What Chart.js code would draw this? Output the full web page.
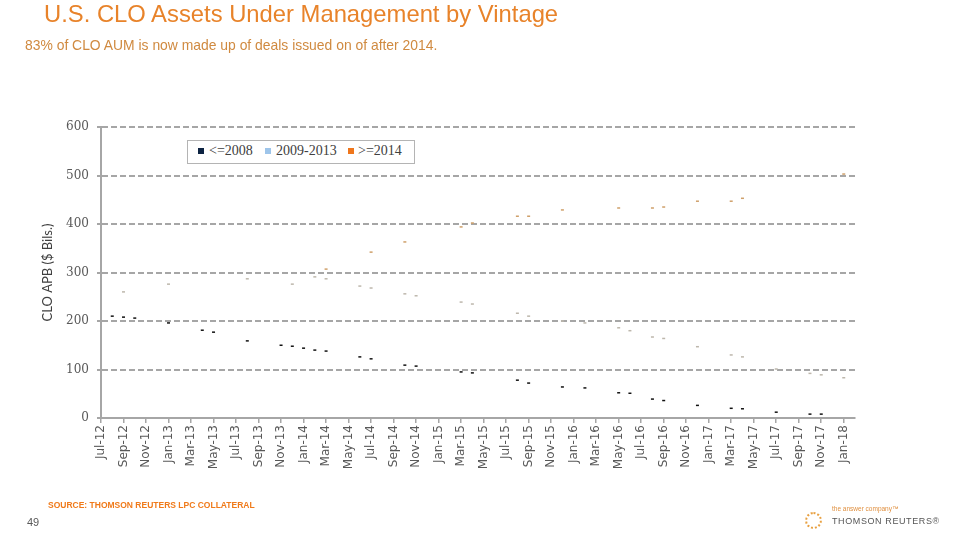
<!DOCTYPE html>
<html><head><meta charset="utf-8">
<script src="https://cdn.jsdelivr.net/npm/chart.js@4.4.0/dist/chart.umd.min.js"></script>
<style>
html,body{margin:0;padding:0;background:#fff;}
#wrap{position:relative;width:960px;height:540px;overflow:hidden;font-family:"Liberation Sans",Arial,sans-serif;}
#c{position:absolute;left:0;top:0;}
.abs{position:absolute;white-space:nowrap;}
#title{left:44px;top:0px;font-size:23.8px;color:#e8832a;}
#sub{left:25px;top:37px;font-size:13.9px;color:#d08a40;}
#legend{left:187px;top:140px;width:228px;height:24px;border:1px solid #b4b4b4;box-sizing:border-box;background:#fff;}
.lm{position:absolute;width:6px;height:6px;top:7px;}
.lt{position:absolute;top:2px;font-family:"Liberation Serif","DejaVu Serif",serif;font-size:14px;color:#404040;}
#src{left:48px;top:500px;font-size:8.5px;font-weight:bold;color:#f07a1a;}
#pg{left:27px;top:516px;font-size:11px;color:#595959;}
#logo{left:805px;top:512px;width:17px;height:17px;border:2px dotted #e8a040;border-radius:50%;box-sizing:border-box;}
#ans{left:832px;top:505px;font-size:6.5px;color:#e09040;}
#tr{left:832px;top:516px;font-size:9px;letter-spacing:0.6px;color:#555;}
</style>
</head><body>
<div id="wrap">
<canvas id="c" width="960" height="540"></canvas>
<div id="title" class="abs">U.S. CLO Assets Under Management by Vintage</div>
<div id="sub" class="abs">83% of CLO AUM is now made up of deals issued on of after 2014.</div>
<div id="legend" class="abs"></div>
<div id="src" class="abs">SOURCE: THOMSON REUTERS LPC COLLATERAL</div>
<div id="pg" class="abs">49</div>
<div id="logo" class="abs"></div>
<div id="ans" class="abs">the answer company™</div>
<div id="tr" class="abs">THOMSON REUTERS®</div>
</div>
<script>
// Month categories (every other one is labelled)
const months = ['Jul-12','Aug-12','Sep-12','Oct-12','Nov-12','Dec-12',
  'Jan-13','Feb-13','Mar-13','Apr-13','May-13','Jun-13','Jul-13','Aug-13','Sep-13','Oct-13','Nov-13','Dec-13',
  'Jan-14','Feb-14','Mar-14','Apr-14','May-14','Jun-14','Jul-14','Aug-14','Sep-14','Oct-14','Nov-14','Dec-14',
  'Jan-15','Feb-15','Mar-15','Apr-15','May-15','Jun-15','Jul-15','Aug-15','Sep-15','Oct-15','Nov-15','Dec-15',
  'Jan-16','Feb-16','Mar-16','Apr-16','May-16','Jun-16','Jul-16','Aug-16','Sep-16','Oct-16','Nov-16','Dec-16',
  'Jan-17','Feb-17','Mar-17','Apr-17','May-17','Jun-17','Jul-17','Aug-17','Sep-17','Oct-17','Nov-17','Dec-17',
  'Jan-18','Feb-18'];

const seriesNames = ['<=2008', '2009-2013', '>=2014'];
const yTitle = 'CLO APB ($ Bils.)';
const yTicks = [0, 100, 200, 300, 400, 500, 600];

// Level of <=2008 vintage (bottom of stack), $ bils
const vintageLe2008 = [
  null, 210, 208, 206, null, null,
  196, null, null, 181, 177, null, null, 159, null, null, 150, 148,
  144, 140, 138, null, null, 126, 122, null, null, 109, 107, null,
  null, null, 95, 93, null, null, null, 78, 72, null, null, 64,
  null, 62, null, null, 52, 51, null, 39, 36, null, null, 26,
  null, null, 20, 19, null, null, 12, null, null, 8, 8, null,
  null, null];

// Stacked level through the 2009-2013 vintage
const cumThrough2013 = [
  null, null, 260, null, null, null,
  276, null, null, null, null, null, null, 287, null, null, null, 276,
  null, 291, 287, null, null, 272, 268, null, null, 256, 252, null,
  null, null, 239, 235, null, null, null, 216, 210, null, null, 200,
  null, 196, null, null, 186, 180, null, 167, 164, null, null, 147,
  null, null, 130, 126, null, null, 101, null, null, 92, 89, null,
  83, null];

// Stacked level including >=2014 vintage (total)
const totalAum = [
  null, null, null, null, null, null,
  null, null, null, null, null, null, null, null, null, null, null, null,
  null, null, 307, null, null, null, 342, null, null, 363, null, null,
  null, null, 394, 402, null, null, null, 416, 416, null, null, 429,
  null, null, null, null, 433, null, null, 433, 435, null, null, 447,
  null, null, 447, 453, null, null, null, null, null, null, null, null,
  503, null];

const colors = ['#0d2342', '#9ec5ea', '#ef761c'];
const markColors = ['#111111', '#bdb7ac', '#cfa06a'];

// HTML legend
const lg = document.getElementById('legend');
const lpos = [[10, 21], [77, 88], [160, 170]];
seriesNames.forEach((n, i) => {
  const m = document.createElement('div');
  m.className = 'lm'; m.style.left = lpos[i][0] + 'px'; m.style.background = colors[i];
  const t = document.createElement('div');
  t.className = 'lt'; t.style.left = lpos[i][1] + 'px'; t.textContent = n;
  lg.appendChild(m); lg.appendChild(t);
});

const series = [vintageLe2008, cumThrough2013, totalAum];
new Chart(document.getElementById('c'), {
  type: 'line',
  data: {
    labels: months,
    datasets: series.map((d, i) => ({
      label: seriesNames[i], data: d, showLine: false,
      borderColor: colors[i], backgroundColor: colors[i],
      pointStyle: 'line', pointRadius: 1.5, pointHoverRadius: 1.5,
      pointBorderWidth: 1.5, pointBorderColor: markColors[i]
    }))
  },
  options: {
    responsive: false, animation: false, events: [],
    layout: { padding: { left: 0, top: 127, right: 105, bottom: 0 } },
    plugins: { legend: { display: false }, tooltip: { enabled: false } },
    scales: {
      x: {
        type: 'category', offset: false,
        grid: { display: true, drawOnChartArea: false, drawTicks: true, tickLength: 5, color: '#a6a6a6', lineWidth: 1.5 },
        border: { display: true, color: '#a6a6a6', width: 2 },
        ticks: {
          autoSkip: false, maxRotation: 90, minRotation: 90, padding: 2,
          color: '#595959', font: { family: 'DejaVu Sans', size: 12 },
          callback: (v, i) => (i % 2 === 0 ? months[i] : null)
        },
        afterFit: s => { s.height = 122; }
      },
      y: {
        min: 0, max: 600,
        afterBuildTicks: s => { s.ticks = yTicks.map(v => ({ value: v })); },
        ticks: { color: '#595959', padding: 8, font: { family: 'DejaVu Serif', size: 12 } },
        grid: { color: c => (c.tick && c.tick.value === 0 ? 'rgba(0,0,0,0)' : '#a6a6a6'), tickColor: '#a6a6a6', lineWidth: 2, tickLength: 4 },
        border: { display: true, color: '#a6a6a6', width: 2, dash: [6, 3] },
        title: { display: true, text: yTitle, color: '#404040', font: { family: 'Lato', size: 13 }, padding: { top: 40, bottom: 0 } },
        afterFit: s => { s.width = 101; }
      }
    }
  }
});
</script>
</body></html>
